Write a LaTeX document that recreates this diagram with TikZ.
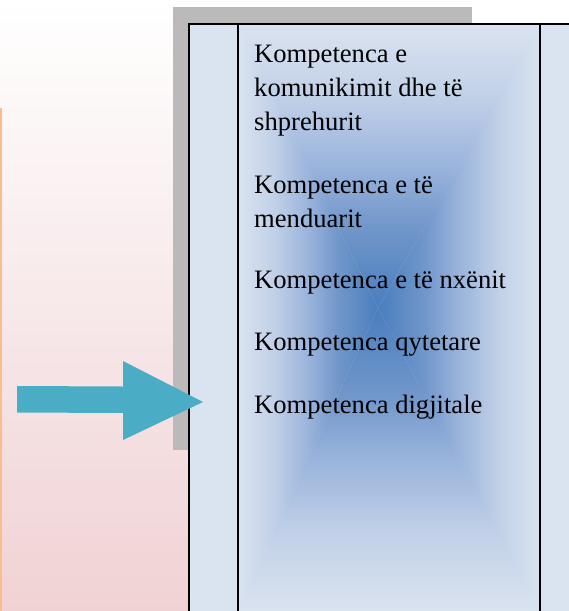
\documentclass[tikz,border=0pt]{standalone}
\usepackage{fontspec}
\setmainfont{Liberation Serif}
\usetikzlibrary{positioning}

\definecolor{pinkbot}{HTML}{F0D2D4}
\definecolor{orangeedge}{HTML}{F9BE8C}
\definecolor{shadowgray}{HTML}{BBB9B9}
\definecolor{boxblue}{HTML}{DAE3F0}
\definecolor{paleblue}{HTML}{C2D1E8}
\definecolor{midblue}{HTML}{9AB4DC}
\definecolor{softblue}{HTML}{7398CB}
\definecolor{deepblue}{HTML}{4A7EBE}
\definecolor{arrowteal}{HTML}{4BACC6}

% edge colour at the bottom, centre colour at the top
\pgfdeclareverticalshading{bluecross}{100bp}{%
  color(0bp)=(boxblue); color(25bp)=(boxblue); color(37.5bp)=(paleblue);
  color(50bp)=(midblue); color(60bp)=(softblue); color(75bp)=(deepblue);
  color(100bp)=(deepblue)}

\tikzset{
  frame/.style={line width=2pt, draw=black},
  item/.style={anchor=base west, inner sep=0pt, align=left,
    font=\fontsize{26.6}{34}\selectfont}
}

\begin{document}
\begin{tikzpicture}[x=1pt, y=-1pt]
  \useasboundingbox (0,0) rectangle (569,611);
  \clip (0,0) rectangle (569,611);

  % background
  \shade[top color=white, bottom color=pinkbot] (0,0) rectangle (189,611);
  \draw[orangeedge, line width=1.6pt] (0.8,108) -- (0.8,611);
  \fill[shadowgray] (173,7) rectangle (472,450);

  % the table
  \fill[boxblue] (189,24) rectangle (580,620);
  \coordinate (c) at (378,308);
  \begin{scope}
    \clip (238,24) -- (540,24) -- (c) -- cycle;
    \shade[shading=bluecross, shading angle=180] (238,24) rectangle (540,308);
  \end{scope}
  \begin{scope}
    \clip (238,611) -- (540,611) -- (c) -- cycle;
    \shade[shading=bluecross] (238,308) rectangle (540,611);
  \end{scope}
  \begin{scope}
    \clip (238,24) -- (238,611) -- (c) -- cycle;
    \shade[shading=bluecross, shading angle=-90] (238,24) rectangle (378,611);
  \end{scope}
  \begin{scope}
    \clip (540,24) -- (540,611) -- (c) -- cycle;
    \shade[shading=bluecross, shading angle=90] (378,24) rectangle (540,611);
  \end{scope}
  \draw[frame] (189,640) -- (189,23.5) -- (600,23.5);
  \draw[frame] (238,23.5) -- (238,640);
  \draw[frame] (540,23.5) -- (540,640);

  % arrow
  \fill[arrowteal] (17,386) -- (123,386.5) -- (123,361) -- (203,402)
    -- (123,440) -- (123,413) -- (17,412.5) -- cycle;

  % competences (base = last line)
  \node[item] (komunikim) at (254,130) {Kompetenca e\\komunikimit dhe të\\shprehurit};
  \node[item] (menduar) at (254,227) {Kompetenca e të\\menduarit};
  \node[item] (nxene) at (254,288) {Kompetenca e të nxënit};
  \node[item] (qytetare) at (254,350) {Kompetenca qytetare};
  \node[item] (digjitale) at (254,413) {Kompetenca digjitale};
\end{tikzpicture}
\end{document}
